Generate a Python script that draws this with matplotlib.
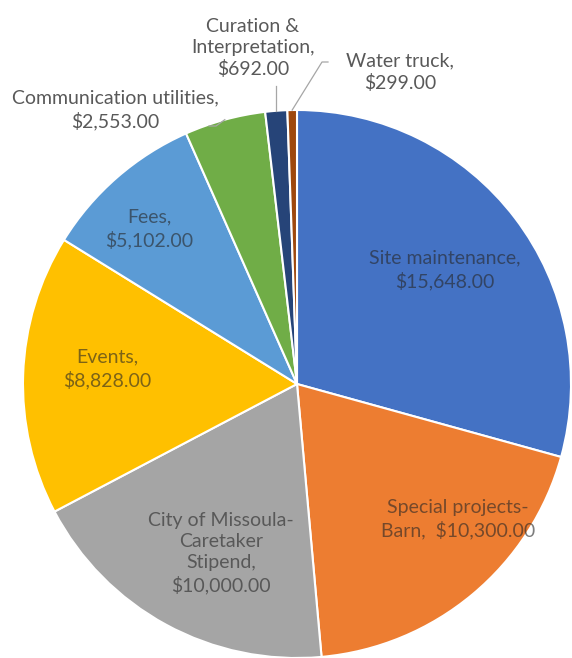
import matplotlib.pyplot as plt
import numpy as np

labels = ['Site maintenance,\n$15,648.00', 'Special projects-\nBarn,  $10,300.00',
          'City of Missoula-\nCaretaker\nStipend,\n$10,000.00', 'Events,\n$8,828.00',
          'Fees,\n$5,102.00', 'Communication utilities,\n$2,553.00',
          'Curation &\nInterpretation,\n$692.00', 'Water truck,\n$299.00']
values = [15648, 10300, 10000, 8828, 5102, 2553, 692, 299]
colors = ['#4472C4', '#ED7D31', '#A5A5A5', '#FFC000', '#5B9BD5', '#70AD47', '#264478', '#9E480E']

# label centres in pixels of the 572x658 image, pie centre (297, 384), radius 274
label_px = [(445, 270), (458, 519), (221, 553), (107, 369), (149, 229),
            (115, 110), (253, 48), (400, 72)]
inside = [True, True, True, True, True, False, False, False]
# leader line start points (pixels) for outside labels
leader_px = {5: [(209, 126), (216, 126)], 6: [(276, 86)], 7: [(328, 62), (322, 62)]}

cx, cy, R = 297, 384, 274
W, H = 572, 658


def to_data(p):
    return ((p[0] - cx) / R, (cy - p[1]) / R)


fig = plt.figure(figsize=(W / 100, H / 100), dpi=100)
ax = fig.add_axes([(cx - R) / W, (H - cy - R) / H, 2 * R / W, 2 * R / H])
wedges, _ = ax.pie(values, colors=colors, startangle=90, counterclock=False,
                   wedgeprops=dict(edgecolor='white', linewidth=1.5))
ax.set_xlim(-1, 1)
ax.set_ylim(-1, 1)
ax.set_aspect('equal')
ax.axis('off')

for i, lab in enumerate(labels):
    x, y = to_data(label_px[i])
    if inside[i]:
        ax.text(x, y, lab, ha='center', va='center', fontsize=14, family='Lato',
                color='#262626', alpha=0.6, linespacing=1.3)
    else:
        ax.text(x, y, lab, ha='center', va='center', fontsize=14, family='Lato',
                color='#595959', linespacing=1.3, clip_on=False)

for i, pts in leader_px.items():
    w = wedges[i]
    mid = np.deg2rad((w.theta1 + w.theta2) / 2)
    end = (np.cos(mid), np.sin(mid))
    xs = [to_data(p)[0] for p in pts] + [end[0]]
    ys = [to_data(p)[1] for p in pts] + [end[1]]
    if i == 6:
        xs[0] = end[0]
    ax.plot(xs, ys, color='#A6A6A6', lw=0.9, clip_on=False)

fig.savefig('out.png', dpi=100)
